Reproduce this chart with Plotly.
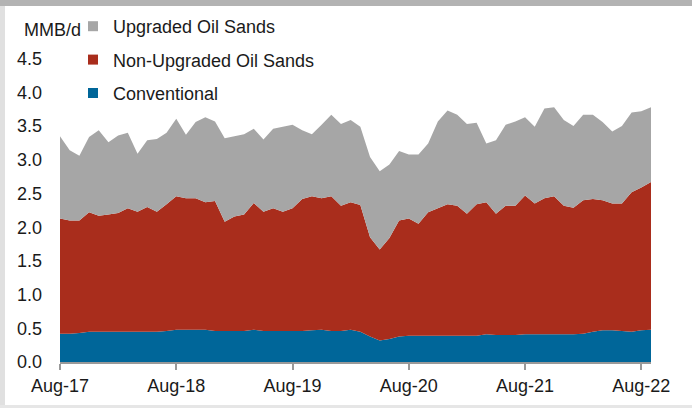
import plotly.graph_objects as go
import pandas as pd

# monthly, Aug-17 .. Sep-22 (MMB/d)
months = list(pd.date_range('2017-08-01', periods=62, freq='MS').strftime('%b-%y'))

conventional = [
    0.42, 0.42, 0.43, 0.45, 0.45, 0.45, 0.45, 0.45, 0.45, 0.45, 0.45, 0.46,
    0.48, 0.48, 0.48, 0.48, 0.46, 0.46, 0.46, 0.46, 0.48, 0.46, 0.46, 0.46,
    0.46, 0.46, 0.47, 0.48, 0.46, 0.46, 0.48, 0.45, 0.38, 0.32, 0.34, 0.38,
    0.39, 0.39, 0.39, 0.39, 0.39, 0.39, 0.39, 0.39, 0.41, 0.40, 0.40, 0.40,
    0.41, 0.41, 0.41, 0.41, 0.41, 0.41, 0.42, 0.45, 0.47, 0.47, 0.46, 0.45,
    0.47, 0.48,
]
non_upgraded = [
    1.71, 1.68, 1.67, 1.77, 1.72, 1.74, 1.76, 1.83, 1.78, 1.85, 1.78, 1.88,
    1.98, 1.95, 1.95, 1.89, 1.93, 1.62, 1.70, 1.73, 1.88, 1.77, 1.82, 1.77,
    1.82, 1.96, 1.99, 1.95, 2.00, 1.86, 1.89, 1.88, 1.47, 1.35, 1.50, 1.72,
    1.74, 1.66, 1.83, 1.89, 1.95, 1.93, 1.81, 1.95, 1.96, 1.80, 1.92, 1.92,
    2.06, 1.94, 2.02, 2.05, 1.91, 1.88, 1.98, 1.97, 1.93, 1.88, 1.89, 2.07,
    2.12, 2.19,
]
upgraded = [
    1.22, 1.04, 0.96, 1.12, 1.27, 1.07, 1.15, 1.12, 0.86, 0.99, 1.08, 1.06,
    1.15, 0.94, 1.13, 1.26, 1.18, 1.24, 1.19, 1.19, 1.10, 1.07, 1.18, 1.26,
    1.24, 1.02, 0.92, 1.09, 1.21, 1.21, 1.22, 1.16, 1.19, 1.16, 1.09, 1.03,
    0.95, 1.03, 1.02, 1.29, 1.39, 1.35, 1.33, 1.21, 0.87, 1.09, 1.20, 1.25,
    1.16, 1.14, 1.33, 1.32, 1.27, 1.21, 1.27, 1.25, 1.16, 1.07, 1.15, 1.18,
    1.13, 1.11,
]

x_ticks = ['Aug-17', 'Aug-18', 'Aug-19', 'Aug-20', 'Aug-21', 'Aug-22']
y_ticks = [0, 0.5, 1.0, 1.5, 2.0, 2.5, 3.0, 3.5, 4.0, 4.5]

GRAY = '#a6a6a6'
RED = '#a92d1c'
BLUE = '#006699'
FONT = dict(family='Arial, Liberation Sans, sans-serif', size=18, color='#1a1a1a')

W, H = 692, 408
ML, MR, MT, MB = 60, 41, 25, 46
PW, PH = W - ML - MR, H - MT - MB


def px(xp):
    return (xp - ML) / PW


def py(yp):
    return (H - MB - yp) / PH


fig = go.Figure()
series = [('Conventional', conventional, BLUE),
          ('Non-Upgraded Oil Sands', non_upgraded, RED),
          ('Upgraded Oil Sands', upgraded, GRAY)]
for name, vals, col in series:
    fig.add_trace(go.Scatter(
        x=months, y=vals, name=name, stackgroup='one', mode='none',
        fillcolor=col, showlegend=False, hoverinfo='skip',
    ))

# legend entries (small squares like the original)
for rank, (name, vals, col) in enumerate(reversed(series)):
    fig.add_trace(go.Scatter(
        x=[None], y=[None], name=name, mode='markers',
        marker=dict(symbol='square', size=10, color=col),
        legendgroup=name, legendrank=rank + 1,
    ))

# frame bands round the picture
shapes = [
    dict(type='rect', xref='paper', yref='paper', x0=px(0), x1=px(W), y0=py(6), y1=py(0),
         fillcolor='#b3b3b3', line_width=0, layer='below'),
    dict(type='rect', xref='paper', yref='paper', x0=px(0), x1=px(5), y0=py(405), y1=py(6),
         fillcolor='#e0e0e0', line_width=0, layer='below'),
    dict(type='rect', xref='paper', yref='paper', x0=px(0), x1=px(W), y0=py(H), y1=py(405),
         fillcolor='#e6e6e6', line_width=0, layer='below'),
]

fig.update_layout(
    width=W, height=H,
    margin=dict(l=ML, r=MR, t=MT, b=MB, autoexpand=False),
    paper_bgcolor='white', plot_bgcolor='white',
    font=FONT,
    shapes=shapes,
    showlegend=True,
    legend=dict(x=px(73), y=py(8), xanchor='left', yanchor='top',
                bgcolor='rgba(0,0,0,0)', font=FONT, tracegroupgap=7,
                traceorder='grouped'),
    annotations=[dict(text='MMB/d', xref='paper', yref='paper', x=px(52), y=py(30),
                      xanchor='center', yanchor='middle', showarrow=False, font=FONT)],
    xaxis=dict(type='category', range=[0, 61], tickvals=x_ticks, ticktext=x_ticks,
               ticks='outside', ticklen=6, tickwidth=2, tickcolor='#999999',
               showline=True, linecolor='#999999', linewidth=2, showgrid=False,
               tickfont=FONT, tickangle=0),
    yaxis=dict(range=[0, 5], tickvals=y_ticks, tickformat='.1f', showgrid=False,
               zeroline=False, showline=False, ticks='', ticklabelstandoff=17,
               tickfont=FONT),
)

# drop the page's default body margin so the figure sits at the window corner
fig.write_html('out.html', config={'displayModeBar': False},
               post_script="document.body.style.margin='0';")
